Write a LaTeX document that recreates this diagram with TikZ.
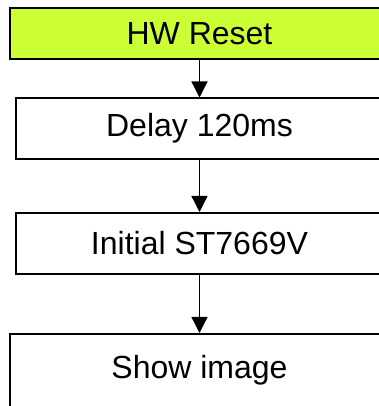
\documentclass[tikz,border=0pt]{standalone}
\usepackage{fontspec}
\setmainfont{Liberation Sans}
\usetikzlibrary{arrows.meta}
\definecolor{resetfill}{RGB}{204,255,51}
\begin{document}
\begin{tikzpicture}[x=1pt,y=1pt,
  stepbox/.style={draw=black, line width=1.6pt, rectangle, inner sep=0pt,
    font=\fontsize{32}{38}\selectfont, anchor=north},
  flow/.style={-{Triangle[length=16pt,width=16pt]}, line width=1.3pt, black}]
\useasboundingbox (0,0) rectangle (379,406);
\clip (0,0) rectangle (379,406);
\fill[white] (0,0) rectangle (379,406);
\node[stepbox, fill=resetfill, minimum width=379pt, minimum height=51.5pt] (reset) at (199.5,399) {HW Reset};
\node[stepbox, minimum width=367pt, minimum height=60.5pt] (delay) at (199.5,308.5) {Delay 120ms};
\node[stepbox, minimum width=367pt, minimum height=61pt] (init) at (199.5,194) {Initial ST7669V};
\node[stepbox, minimum width=379pt, minimum height=90pt, text height=23pt, text depth=23pt] (show) at (199.5,73) {Show image};
\draw[flow] (reset) -- (delay);
\draw[flow] (delay) -- (init);
\draw[flow] (init) -- (show);
\end{tikzpicture}
\end{document}
